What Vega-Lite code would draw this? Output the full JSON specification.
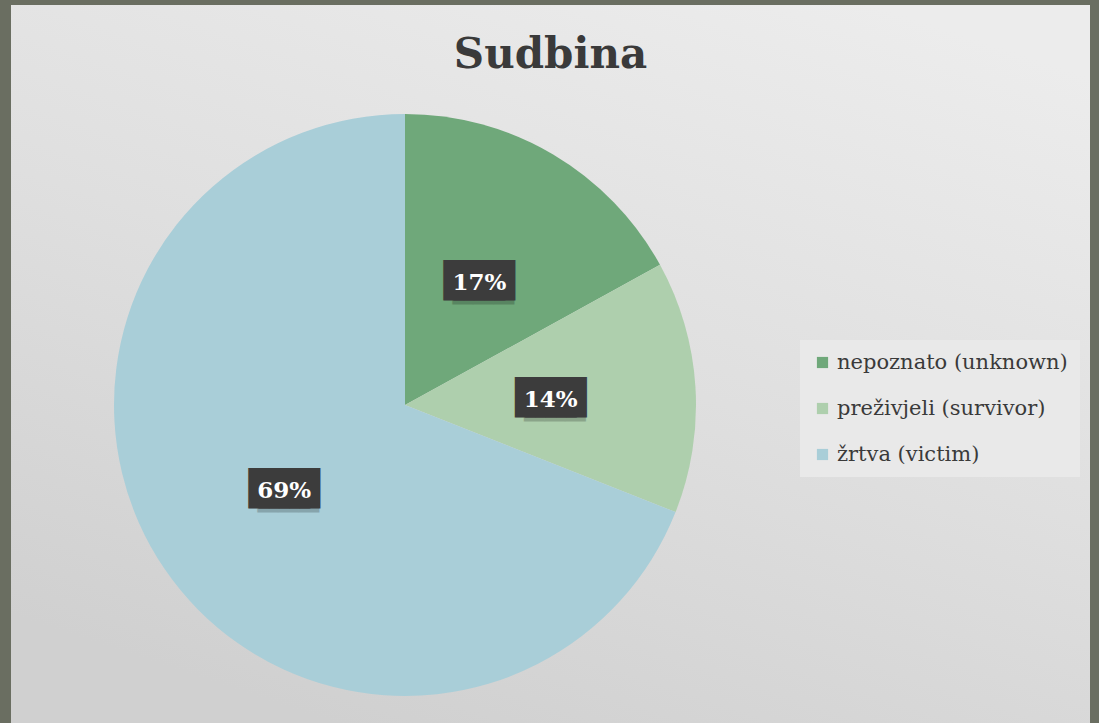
{
  "$schema": "https://vega.github.io/schema/vega-lite/v6.json",
  "width": 1099,
  "height": 723,
  "autosize": {"type": "fit", "contains": "padding"},
  "padding": {"left": 11, "top": 5, "right": 9, "bottom": 0},
  "background": "#6a6e61",
  "title": {
    "text": "Sudbina",
    "font": "DejaVu Serif",
    "fontSize": 42,
    "fontWeight": "bold",
    "color": "#3a3a3a",
    "anchor": "middle",
    "frame": "group",
    "offset": -72
  },
  "config": {
    "view": {
      "stroke": null,
      "fill": {
        "gradient": "linear",
        "x1": 0.8, "y1": 0, "x2": 0.3, "y2": 1,
        "stops": [
          {"offset": 0, "color": "#ececec"},
          {"offset": 0.5, "color": "#dfdfdf"},
          {"offset": 1, "color": "#d0d0d0"}
        ]
      }
    }
  },
  "data": {
    "values": [
      {"Sudbina": "nepoznato (unknown)", "value": 17, "label": "17%"},
      {"Sudbina": "preživjeli (survivor)", "value": 14, "label": "14%"},
      {"Sudbina": "žrtva (victim)", "value": 69, "label": "69%"}
    ]
  },
  "encoding": {
    "theta": {"field": "value", "type": "quantitative", "stack": true},
    "order": {"field": "Sudbina", "type": "nominal", "sort": "ascending"},
    "x": {"value": 394},
    "y": {"value": 400}
  },
  "layer": [
    {
      "mark": {"type": "arc", "outerRadius": 291, "stroke": null},
      "encoding": {
        "color": {
          "field": "Sudbina",
          "type": "nominal",
          "scale": {
            "domain": ["nepoznato (unknown)", "preživjeli (survivor)", "žrtva (victim)"],
            "range": ["#6fa87a", "#aecfad", "#a9ced8"]
          },
          "legend": {
            "title": null,
            "orient": "none",
            "legendX": 789,
            "legendY": 335,
            "fillColor": "#e9e9e9",
            "padding": 12,
            "symbolType": "square",
            "symbolSize": 125,
            "symbolStrokeWidth": 0,
            "labelFont": "DejaVu Serif",
            "labelFontSize": 21,
            "labelColor": "#3a3a3a",
            "labelOffset": 4,
            "rowPadding": 24,
            "labelLimit": 400
          }
        }
      }
    },
    {
      "mark": {"type": "text", "radius": 146, "text": "███", "font": "DejaVu Sans Mono", "fontSize": 34, "color": "#000000", "opacity": 0.2, "dx": 4, "dy": 7, "baseline": "middle", "align": "center"},
      "encoding": {"detail": {"field": "Sudbina"}}
    },
    {
      "mark": {"type": "text", "radius": 146, "text": "███", "font": "DejaVu Sans Mono", "fontSize": 34, "color": "#3c3c3c", "dx": -5, "dy": 3, "baseline": "middle", "align": "center"},
      "encoding": {"detail": {"field": "Sudbina"}}
    },
    {
      "mark": {"type": "text", "radius": 146, "text": "███", "font": "DejaVu Sans Mono", "fontSize": 34, "color": "#3c3c3c", "dx": 5, "dy": 3, "baseline": "middle", "align": "center"},
      "encoding": {"detail": {"field": "Sudbina"}}
    },
    {
      "mark": {"type": "text", "radius": 146, "font": "DejaVu Serif", "fontSize": 23, "fontWeight": "bold", "color": "#ffffff", "baseline": "middle", "align": "center", "dy": 4},
      "encoding": {
        "detail": {"field": "Sudbina"},
        "text": {"field": "label"}
      }
    }
  ]
}
